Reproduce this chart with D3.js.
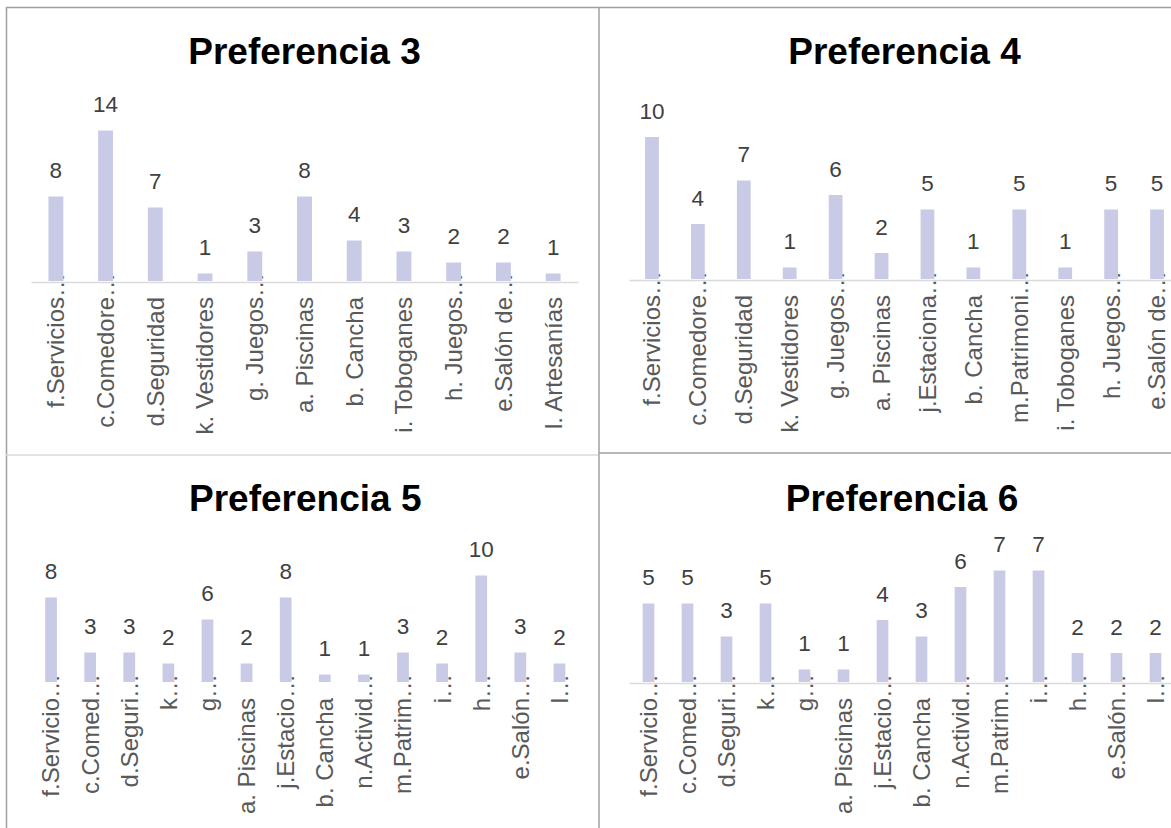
<!DOCTYPE html>
<html><head><meta charset="utf-8">
<script src="https://cdn.jsdelivr.net/npm/d3@7"></script>
<style>body{margin:0;background:#fff;overflow:hidden} svg{display:block}</style>
</head><body>
<svg id="c" width="1171" height="828"></svg>
<script>
// ---- data ----
const titles = ["Preferencia 3", "Preferencia 4", "Preferencia 5", "Preferencia 6"];
const pref3Categories = ["f.Servicios…", "c.Comedore…", "d.Seguridad", "k. Vestidores", "g. Juegos…", "a. Piscinas", "b. Cancha", "i. Toboganes", "h. Juegos…", "e.Salón de…", "l. Artesanías"];
const pref3Values = [8, 14, 7, 1, 3, 8, 4, 3, 2, 2, 1];
const pref4Categories = ["f.Servicios…", "c.Comedore…", "d.Seguridad", "k. Vestidores", "g. Juegos…", "a. Piscinas", "j.Estaciona…", "b. Cancha", "m.Patrimoni…", "i. Toboganes", "h. Juegos…", "e.Salón de…"];
const pref4Values = [10, 4, 7, 1, 6, 2, 5, 1, 5, 1, 5, 5];
const pref5Categories = ["f.Servicio…", "c.Comed…", "d.Seguri…", "k…", "g…", "a. Piscinas", "j.Estacio…", "b. Cancha", "n.Activid…", "m.Patrim…", "i…", "h…", "e.Salón…", "l…"];
const pref5Values = [8, 3, 3, 2, 6, 2, 8, 1, 1, 3, 2, 10, 3, 2];
const pref6Categories = ["f.Servicio…", "c.Comed…", "d.Seguri…", "k…", "g…", "a. Piscinas", "j.Estacio…", "b. Cancha", "n.Activid…", "m.Patrim…", "i…", "h…", "e.Salón…", "l…"];
const pref6Values = [5, 5, 3, 5, 1, 1, 4, 3, 6, 7, 7, 2, 2, 2];

// ---- layout (positions / styles only) ----
const layout = [
  {x0: 31,  x1: 578,  axisY: 282, zeroY: 284.5, unit: 11.0, titleY: 64,  axis: true},
  {x0: 629, x1: 1180, axisY: 280, zeroY: 282,   unit: 14.5, titleY: 64,  axis: true},
  {x0: 31.5,x1: 579,  axisY: 683, zeroY: 685.5, unit: 11.0, titleY: 511, axis: false},
  {x0: 629, x1: 1175, axisY: 683, zeroY: 686,   unit: 16.5, titleY: 511, axis: true}
];
const panels = [
  {cats: pref3Categories, vals: pref3Values},
  {cats: pref4Categories, vals: pref4Values},
  {cats: pref5Categories, vals: pref5Values},
  {cats: pref6Categories, vals: pref6Values}
];
const FONT = "'Liberation Sans', Arial, sans-serif";
const BAR = "#c9cbe6";
const svg = d3.select("#c");
svg.append("rect").attr("width", 1171).attr("height", 828).attr("fill", "#fff");

// frame lines
const frame = svg.append("g");
const dark = "#a0a0a0", light = "#dadada";
[[6, 7.5, 1171, 7.5, dark], [6.5, 7, 6.5, 828, dark], [599, 7, 599, 828, dark],
 [6, 455, 598, 455, light], [599, 453, 1171, 453, dark]].forEach(l => {
  frame.append("line").attr("x1", l[0]).attr("y1", l[1]).attr("x2", l[2]).attr("y2", l[3])
    .attr("stroke", l[4]).attr("stroke-width", 1.5);
});

// measure ellipsis width
const CAT_SIZE = 24;
const meas = svg.append("text").attr("font-family", FONT).attr("font-size", CAT_SIZE).text("…");
const ellW = meas.node().getComputedTextLength();
meas.remove();

panels.forEach((p, i) => {
  const L = layout[i];
  const g = svg.append("g");
  const x = d3.scaleBand().domain(p.cats).range([L.x0, L.x1]).padding(0);
  const maxV = d3.max(p.vals);
  const y = d3.scaleLinear().domain([0, maxV]).range([L.zeroY, L.zeroY - L.unit * maxV]);
  const bw = x.bandwidth() * 0.3;

  g.append("text").attr("x", (L.x0 + L.x1) / 2).attr("y", L.titleY)
    .attr("text-anchor", "middle").attr("font-family", FONT).attr("font-weight", "bold")
    .attr("font-size", 37).attr("fill", "#000").text(titles[i]);

  const ax = g.append("g").attr("transform", `translate(0,${L.axisY})`)
    .call(d3.axisBottom(x).tickSize(0).tickSizeOuter(0).tickPadding(0));
  ax.select(".domain").attr("stroke", L.axis ? light : "none").attr("stroke-width", 1.5);
  ax.selectAll("text")
    .attr("font-family", FONT).attr("font-size", CAT_SIZE).attr("fill", "#595959")
    .attr("transform", "rotate(-90)").attr("text-anchor", "end")
    .attr("y", 0).attr("dy", "0.35em")
    .attr("x", d => -15 + (d.endsWith("…") ? ellW : 0));

  const data = p.cats.map((c, k) => ({c, v: p.vals[k]}));
  g.selectAll("rect.bar").data(data).join("rect").attr("class", "bar")
    .attr("x", d => x(d.c) + (x.bandwidth() - bw) / 2)
    .attr("width", bw)
    .attr("y", d => y(d.v))
    .attr("height", d => (L.axisY - 1) - y(d.v))
    .attr("fill", BAR);

  g.selectAll("text.val").data(data).join("text").attr("class", "val")
    .attr("x", d => x(d.c) + x.bandwidth() / 2)
    .attr("y", d => y(d.v) - 18.5)
    .attr("text-anchor", "middle").attr("font-family", FONT).attr("font-size", 22.5)
    .attr("fill", "#404040").text(d => d.v);
});
</script>
</body></html>
